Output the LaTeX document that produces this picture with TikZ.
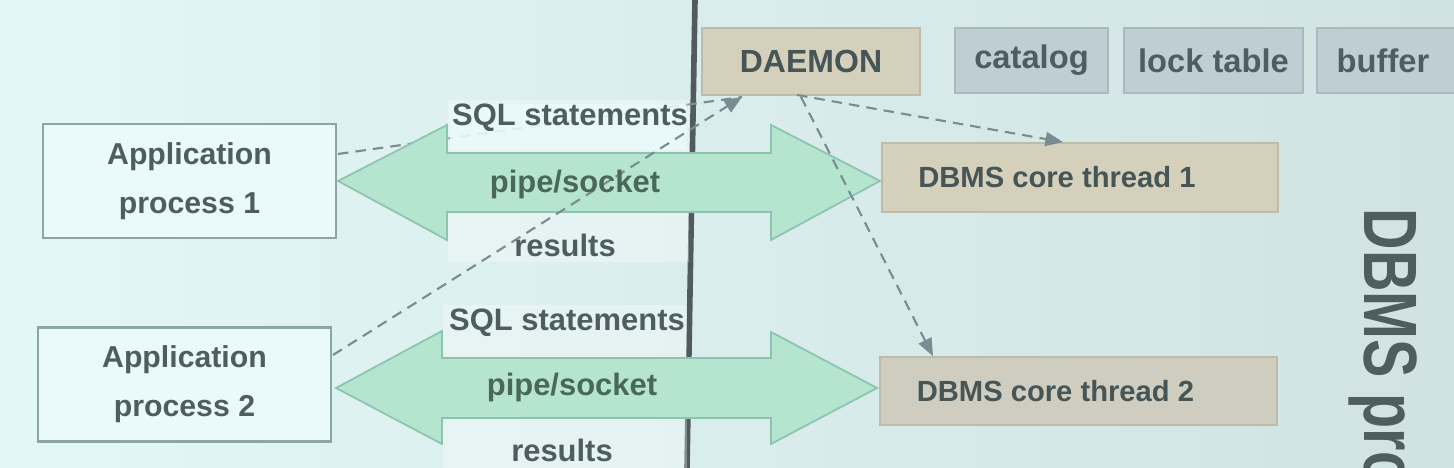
\documentclass[tikz,border=0pt]{standalone}
\usepackage{fontspec}
\setmainfont{Liberation Sans}
\usetikzlibrary{arrows.meta}
\definecolor{bgl}{RGB}{228,247,247}
\definecolor{bgr}{RGB}{208,226,226}
\definecolor{txt}{RGB}{78,94,96}
\definecolor{appfill}{RGB}{234,250,250}
\definecolor{appdraw}{RGB}{140,165,165}
\definecolor{tanfill}{RGB}{212,208,188}
\definecolor{tan2fill}{RGB}{206,205,192}
\definecolor{tandraw}{RGB}{190,188,168}
\definecolor{grayfill}{RGB}{190,206,210}
\definecolor{graydraw}{RGB}{168,186,190}
\definecolor{arrfill}{RGB}{182,229,207}
\definecolor{arrdraw}{RGB}{140,196,176}
\definecolor{pipetxt}{RGB}{74,104,90}
\definecolor{dashc}{RGB}{120,140,145}
\definecolor{divc}{RGB}{80,90,95}
\tikzset{
  appbox/.style={draw=appdraw, line width=0.6pt, fill=appfill, minimum width=2.93cm, minimum height=1.14cm, align=center, text=txt, font=\fontsize{8.6}{14}\selectfont\bfseries},
  tanbox/.style={draw=tandraw, line width=0.5pt, fill=tanfill, text=txt!90!black, font=\fontsize{8.3}{10}\selectfont\bfseries},
  graybox/.style={draw=graydraw, line width=0.5pt, fill=grayfill, minimum height=0.65cm, text=txt, font=\fontsize{9.3}{11}\selectfont\bfseries},
  lbl/.style={text=txt, font=\fontsize{8.8}{10}\selectfont\bfseries, inner sep=0pt},
  pipelbl/.style={text=pipetxt, font=\fontsize{8.8}{10}\selectfont\bfseries, inner sep=0pt},
  fatarrow/.style={fill=arrfill, draw=arrdraw, line width=0.5pt},
  lblback/.style={fill=white, opacity=0.3},
  dashconn/.style={draw=dashc, densely dashed, line width=0.6pt, -{Triangle[length=5pt,width=4pt]}},
  dashplain/.style={draw=dashc, densely dashed, line width=0.6pt},
}
\begin{document}
\begin{tikzpicture}[x=0.01cm, y=-0.01cm]
\useasboundingbox (0,0) rectangle (1454,468);
\clip (0,0) rectangle (1454,468);
% background gradient as strips
\foreach \i in {0,...,72}{
  \pgfmathtruncatemacro{\pct}{100-\i*100/72}
  \fill[bgl!\pct!bgr] (\i*20,0) rectangle (\i*20+21,468);
}

% nodes
\node[appbox] (app1) at (189.5,181) {Application\\process 1};
\node[appbox] (app2) at (184.5,384.5) {Application\\process 2};
\node[tanbox, minimum width=2.18cm, minimum height=0.67cm, font=\fontsize{9.1}{11}\selectfont\bfseries] (daemon) at (811,61.5) {DAEMON};
\node[graybox, minimum width=1.53cm] (catalog) at (1031.5,60.5) {catalog};
\node[graybox, minimum width=1.79cm] (lock) at (1213.5,60.5) {lock table};
\node[graybox, minimum width=1.42cm] (buffer) at (1388,60.5) {\hspace{-0.1cm}buffer};
\node[tanbox, minimum width=3.96cm, minimum height=0.69cm] (t1) at (1080,177.5) {\hspace{-0.46cm}DBMS core thread 1};
\node[tanbox, minimum width=3.97cm, minimum height=0.68cm, fill=tan2fill] (t2) at (1078.5,391) {\hspace{-0.46cm}DBMS core thread 2};

\coordinate (dtip) at (742,97);
\coordinate (a1s) at (338,154);
\coordinate (a2s) at (333,355);

% divider
\draw[divc, line width=1.6pt] (695,0) -- (687,468);

% dashed line from app1 (mostly hidden)
\draw[dashplain] (a1s) -- (dtip);

% label backgrounds
\fill[lblback] (448,100) rectangle (689,152);
\fill[lblback] (448,213) rectangle (689,262);
\fill[lblback] (443,305) rectangle (687,357);
\fill[lblback] (443,418) rectangle (687,468);
\fill[appfill, opacity=0.85] (450,104) rectangle (686,150);

% fat arrows
\filldraw[fatarrow] (338,181) -- (447,125) -- (447,153) -- (771,153) -- (771,125) -- (880,181)
  -- (771,240) -- (771,212) -- (447,212) -- (447,240) -- cycle;
\filldraw[fatarrow] (336,388) -- (442,331) -- (442,358) -- (771,358) -- (771,332) -- (877,388)
  -- (771,444) -- (771,418) -- (442,418) -- (442,444) -- cycle;

% dashed line from app2
\draw[dashconn] (a2s) -- (dtip);

% daemon to threads
\draw[dashconn] (797,95) -- (t1.north -| 1063,0);
\draw[dashconn] (801,97) -- (t2.north -| 933,0);

% labels
\node[lbl] (sql1) at (570,118) {SQL statements};
\node[pipelbl] (pipe1) at (575,185) {pipe/socket};
\node[lbl] (res1) at (565,245) {results};
\node[lbl] (sql2) at (567,323) {SQL statements};
\node[pipelbl] (pipe2) at (572,388) {pipe/socket};
\node[lbl] (res2) at (562,450) {results};

% side title
\node[rotate=-90, anchor=base west, inner sep=0pt, text=txt] (title) at (1364,208)
  {\scalebox{0.76}[1]{\fontsize{21.5}{24}\selectfont\bfseries DBMS process}};
\end{tikzpicture}
\end{document}
